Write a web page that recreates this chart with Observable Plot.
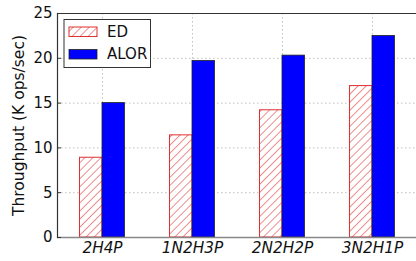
<!DOCTYPE html>
<html>
<head>
<meta charset="utf-8">
<script src="https://cdn.jsdelivr.net/npm/d3@7"></script>
<script src="https://cdn.jsdelivr.net/npm/@observablehq/plot@0.6"></script>
<style>
  html, body { margin: 0; padding: 0; background: #fff; }
  svg { font-family: "DejaVu Sans", sans-serif; }
</style>
</head>
<body>
<div id="chart"></div>
<script>
const categories = ["2H4P", "1N2H3P", "2N2H2P", "3N2H1P"];
const seriesNames = ["ED", "ALOR"];
const edValues = [8.9, 11.4, 14.2, 16.9];
const alorValues = [15.0, 19.7, 20.3, 22.5];
const yTicks = [0, 5, 10, 15, 20, 25];
const yLabel = "Throughput (K ops/sec)";

const edData = categories.map((c, i) => ({cat: c, series: seriesNames[0], value: edValues[i]}));
const alorData = categories.map((c, i) => ({cat: c, series: seriesNames[1], value: alorValues[i]}));

const grid = {stroke: "#b0b0b0", strokeDasharray: "1.5,2.5", strokeWidth: 0.8, strokeOpacity: 1};

const plot = Plot.plot({
  width: 416,
  height: 261,
  marginLeft: 57,
  marginRight: 0,
  marginTop: 13,
  marginBottom: 24,
  style: {fontFamily: "DejaVu Sans, sans-serif", fontSize: "15px", background: "#fff", overflow: "visible"},
  x: {domain: categories, range: [57, 417], padding: 0, axis: null},
  y: {domain: [0, 25], axis: null},
  marks: [
    Plot.gridY(yTicks.slice(1, -1), grid),
    Plot.gridX(categories, grid),
    Plot.barY(edData, {x: "cat", y: "value", fill: "url(#hatchED)", stroke: "#e03030", strokeWidth: 1, insetLeft: 22.5, insetRight: 45}),
    Plot.barY(alorData, {x: "cat", y: "value", fill: "#0000ff", stroke: "#222", strokeWidth: 0.8, insetLeft: 45, insetRight: 22.5}),
    Plot.ruleY([0], {stroke: "#888", strokeWidth: 1.5}),
    Plot.ruleY([25], {stroke: "#333", strokeWidth: 1.2}),
    Plot.frame({anchor: "left", stroke: "#333", strokeWidth: 1.2}),
    Plot.axisY(yTicks, {anchor: "left", tickSize: -4, tickPadding: 9, stroke: "#333", fontSize: 15, fill: "#111", label: null}),
    Plot.axisY([], {anchor: "left", tickSize: 0, fontSize: 15.5, fill: "#111",
      label: yLabel, labelAnchor: "center", labelOffset: 45, labelArrow: "none"}),
    Plot.axisX({anchor: "bottom", tickSize: 0, tickPadding: 5, fontSize: 15.3, fontStyle: "italic", fill: "#111", label: null})
  ]
});

const svg = d3.select(plot);
const defs = svg.insert("defs", ":first-child");
const pat = defs.append("pattern")
  .attr("id", "hatchED")
  .attr("patternUnits", "userSpaceOnUse")
  .attr("width", 5.7).attr("height", 5.7)
  .attr("patternTransform", "rotate(45)");
pat.append("rect").attr("width", 5.7).attr("height", 5.7).attr("fill", "#fff");
pat.append("line").attr("x1", 0).attr("y1", 0).attr("x2", 0).attr("y2", 5.7)
  .attr("stroke", "#e03030").attr("stroke-width", 1.1);

// legend
const lg = svg.append("g").attr("transform", "translate(64,19.5)").attr("text-anchor", "start");
lg.append("rect").attr("width", 86.5).attr("height", 48).attr("fill", "#fff").attr("stroke", "#333").attr("stroke-width", 1);
lg.append("rect").attr("x", 5).attr("y", 7.5).attr("width", 28).attr("height", 9.5)
  .attr("fill", "url(#hatchED)").attr("stroke", "#e03030").attr("stroke-width", 1);
lg.append("rect").attr("x", 5).attr("y", 30).attr("width", 28).attr("height", 9.5)
  .attr("fill", "#0000ff").attr("stroke", "#222").attr("stroke-width", 0.8);
lg.append("text").attr("x", 43).attr("y", 17.5).attr("font-size", 15).attr("fill", "#111").text(seriesNames[0]);
lg.append("text").attr("x", 43).attr("y", 39.5).attr("font-size", 15).attr("fill", "#111").text(seriesNames[1]);

document.getElementById("chart").appendChild(plot);
</script>
</body>
</html>
